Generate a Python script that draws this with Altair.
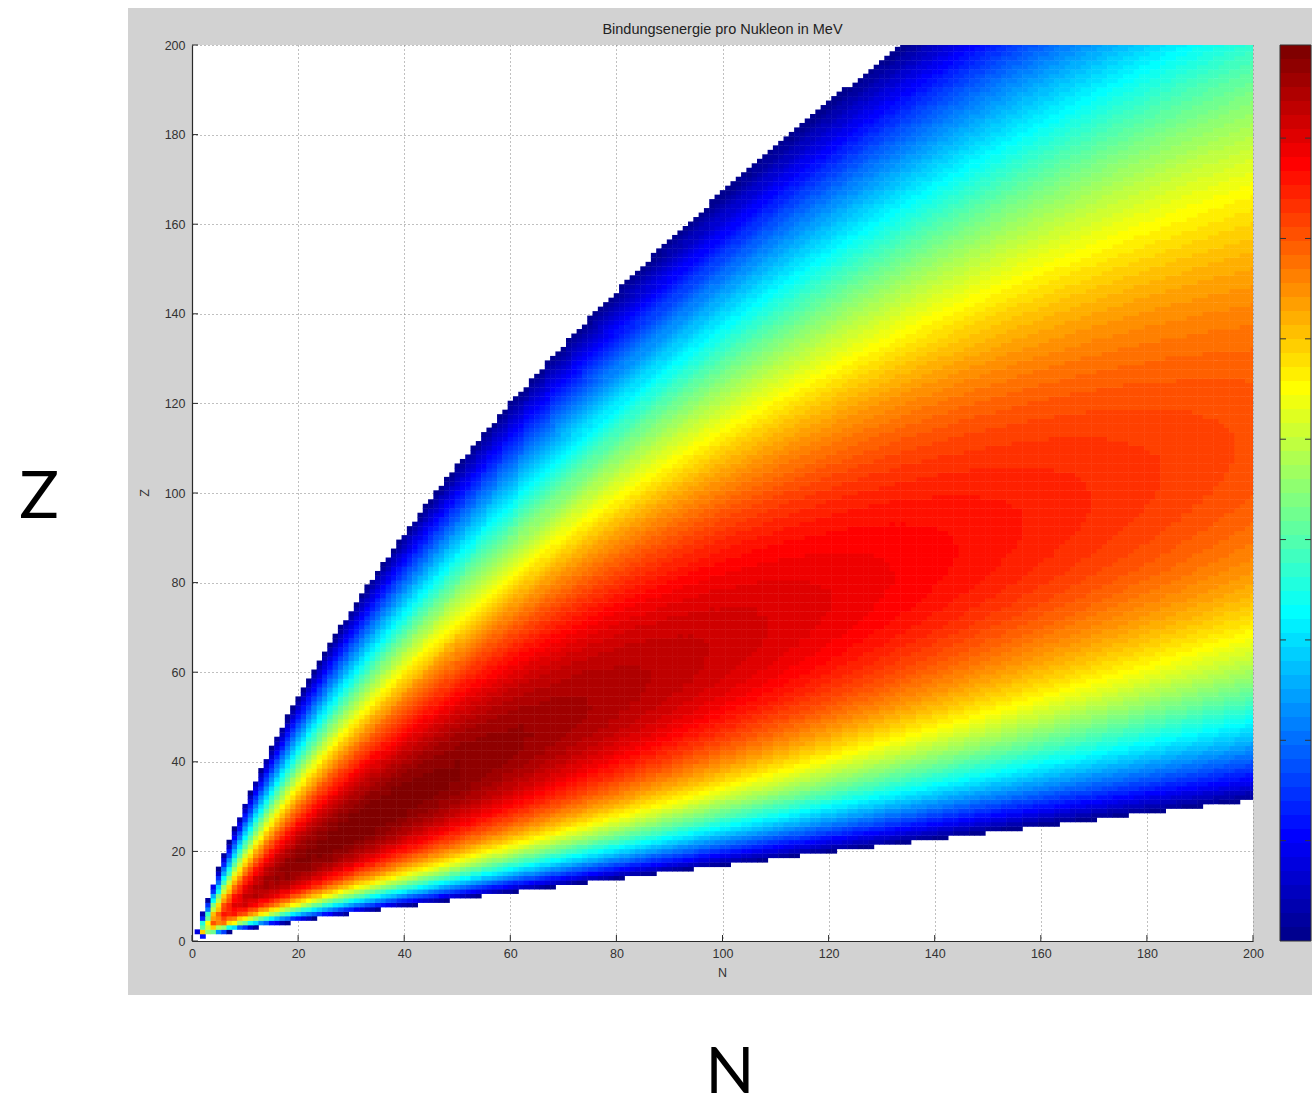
import altair as alt
import numpy as np
import pandas as pd

# ---- data definitions -------------------------------------------------------
title_text = "Bindungsenergie pro Nukleon in MeV"
x_label = "N"
y_label = "Z"
# Bethe-Weizsaecker coefficients (MeV): volume, surface, Coulomb, asymmetry, pairing
coef_names = ["a_V", "a_S", "a_C", "a_A", "a_P"]
coef_values = [15.67, 17.23, 0.714, 93.15, 11.2]
neutron_numbers = list(range(1, 201))
proton_numbers = list(range(1, 201))
axis_ticks = list(range(0, 201, 20))
colorbar_ticks = [1, 2, 3, 4, 5, 6, 7, 8]

aV, aS, aC, aA, aP = coef_values
NN, ZZ = np.meshgrid(np.array(neutron_numbers, dtype=float), np.array(proton_numbers, dtype=float))
A = NN + ZZ
B = aV * A - aS * A ** (2 / 3) - aC * ZZ * (ZZ - 1) / A ** (1 / 3) - aA * (NN - ZZ) ** 2 / (4 * A)
parity = np.where((NN % 2 == 0) & (ZZ % 2 == 0), 1.0, np.where((NN % 2 == 1) & (ZZ % 2 == 1), -1.0, 0.0))
B = B + parity * aP / np.sqrt(A)
BA = B / A
mask = BA > 0
df = pd.DataFrame({"N": NN[mask].astype(int), "Z": ZZ[mask].astype(int), "BA": np.round(BA[mask], 4)})
vmin = float(df["BA"].min())
vmax = float(df["BA"].max())


# ---- MATLAB jet(64) colormap -------------------------------------------------
def jet64():
    n, m = 64, 16
    u = [i / m for i in range(1, m + 1)] + [1.0] * (m - 1) + [i / m for i in range(m, 0, -1)]
    L = len(u)
    g = [8 + i for i in range(1, L + 1)]
    r = [x + m for x in g if x + m <= n]
    b = [x - m for x in g if x - m >= 1]
    g = [x for x in g if x <= n]
    J = [[0.0, 0.0, 0.0] for _ in range(n)]
    for k, idx in enumerate(r):
        J[idx - 1][0] = u[k]
    for k, idx in enumerate(g):
        J[idx - 1][1] = u[k]
    off = L - len(b)
    for k, idx in enumerate(b):
        J[idx - 1][2] = u[off + k]
    return ["#%02x%02x%02x" % tuple(int(round(c * 255)) for c in row) for row in J]


jet = jet64()
color = alt.Color("BA:Q", scale=alt.Scale(type="quantize", domain=[vmin, vmax], range=jet), legend=None)

W, H = 1061, 896
FONT = "Liberation Sans"
xscale = alt.Scale(domain=[0, 200], nice=False, zero=False)
yscale = alt.Scale(domain=[0, 200], nice=False, zero=False)
cbscale = alt.Scale(domain=[vmin, vmax], nice=False, zero=False)

axis_common = dict(
    values=axis_ticks, title=None, grid=True, gridDash=[1, 3], gridColor="#808080", gridWidth=1,
    tickSize=0, labelFontSize=12.5, labelColor="#333333", labelFont=FONT, labelFlush=False,
    domainColor="#2a2a2a", domainWidth=1.2, labelOverlap=False,
)
xaxis = alt.Axis(labelPadding=6, **axis_common)
yaxis = alt.Axis(labelPadding=7, **axis_common)

one = pd.DataFrame({"k": [0]})

# white page margins outside the grey figure panel
white_left = alt.Chart(one).mark_rect(color="white").encode(
    x=alt.value(-192), x2=alt.value(-64), y=alt.value(-45), y2=alt.value(H + 165))
white_bottom = alt.Chart(one).mark_rect(color="white").encode(
    x=alt.value(-192), x2=alt.value(W + 59), y=alt.value(H + 54), y2=alt.value(H + 165))
white_top = alt.Chart(one).mark_rect(color="white").encode(
    x=alt.value(-192), x2=alt.value(W + 59), y=alt.value(-45), y2=alt.value(-37))

heat = alt.Chart(df).transform_calculate(
    x0="datum.N - 0.5", x1="datum.N + 0.6", y0="datum.Z - 0.5", y1="datum.Z + 0.6"
).mark_rect(clip=True, strokeWidth=0).encode(
    x=alt.X("x0:Q", scale=xscale, axis=xaxis),
    x2="x1:Q",
    y=alt.Y("y0:Q", scale=yscale, axis=yaxis),
    y2="y1:Q",
    color=color,
)

ticks_df = pd.DataFrame({"t": axis_ticks})
xticks = alt.Chart(ticks_df).mark_rule(color="#2a2a2a", strokeWidth=1).encode(
    x=alt.X("t:Q", scale=xscale, axis=xaxis), y=alt.value(H - 6), y2=alt.value(H))
yticks = alt.Chart(ticks_df).mark_rule(color="#2a2a2a", strokeWidth=1).encode(
    y=alt.Y("t:Q", scale=yscale, axis=None), x=alt.value(0), x2=alt.value(6))

# colorbar (64 bands)
edges = np.linspace(vmin, vmax, 65)
eps = (vmax - vmin) / 500
cb = pd.DataFrame({
    "lo": edges[:-1],
    "hi": np.minimum(edges[1:] + eps, vmax),
    "BA": (edges[:-1] + edges[1:]) / 2,
})
CBX0, CBX1 = 1088, 1119
cbar = alt.Chart(cb).mark_rect(strokeWidth=0).encode(
    y=alt.Y("lo:Q", scale=cbscale, axis=None), y2="hi:Q",
    x=alt.value(CBX0), x2=alt.value(CBX1), color=color)
cbar_border = alt.Chart(one).mark_rect(fill="transparent", stroke="#333333", strokeWidth=1).encode(
    x=alt.value(CBX0), x2=alt.value(CBX1), y=alt.value(0), y2=alt.value(H))
cbt_df = pd.DataFrame({"v": colorbar_ticks})
cbticks_l = alt.Chart(cbt_df).mark_rule(color="#333333").encode(
    y=alt.Y("v:Q", scale=cbscale, axis=None), x=alt.value(CBX0), x2=alt.value(CBX0 + 6))
cbticks_r = alt.Chart(cbt_df).mark_rule(color="#333333").encode(
    y=alt.Y("v:Q", scale=cbscale, axis=None), x=alt.value(CBX1 - 6), x2=alt.value(CBX1))

# texts
title = alt.Chart(one).mark_text(text=title_text, font=FONT, fontSize=14.5, color="#222222",
                                 align="center", baseline="middle").encode(
    x=alt.value(W / 2), y=alt.value(-15))
xlab = alt.Chart(one).mark_text(text=x_label, font=FONT, fontSize=12.5, color="#333333",
                                align="center", baseline="middle").encode(
    x=alt.value(W / 2), y=alt.value(H + 32))
ylab = alt.Chart(one).mark_text(text=y_label, font=FONT, fontSize=12.5, color="#333333", angle=270,
                                align="center", baseline="middle").encode(
    x=alt.value(-47), y=alt.value(H / 2))
bigZ = alt.Chart(one).mark_text(text=y_label, font="Lato", fontSize=66, color="#000000",
                                align="center", baseline="middle").encode(
    x=alt.value(-153), y=alt.value(453))
bigN = alt.Chart(one).mark_text(text=x_label, font="Lato", fontSize=64, color="#000000",
                                align="center", baseline="middle").encode(
    x=alt.value(538), y=alt.value(1029))

chart = alt.layer(
    white_left, white_bottom, white_top, heat, xticks, yticks,
    cbar, cbar_border, cbticks_l, cbticks_r, title, xlab, ylab, bigZ, bigN,
).resolve_scale(y="independent").properties(
    width=W, height=H,
    autosize=alt.AutoSizeParams(type="none"),
    padding={"left": 192, "top": 45, "right": 59, "bottom": 165},
    background="#d2d2d2",
).configure_view(fill="white", strokeWidth=0)

chart.save("out.html", embed_options={"renderer": "svg", "actions": False})
